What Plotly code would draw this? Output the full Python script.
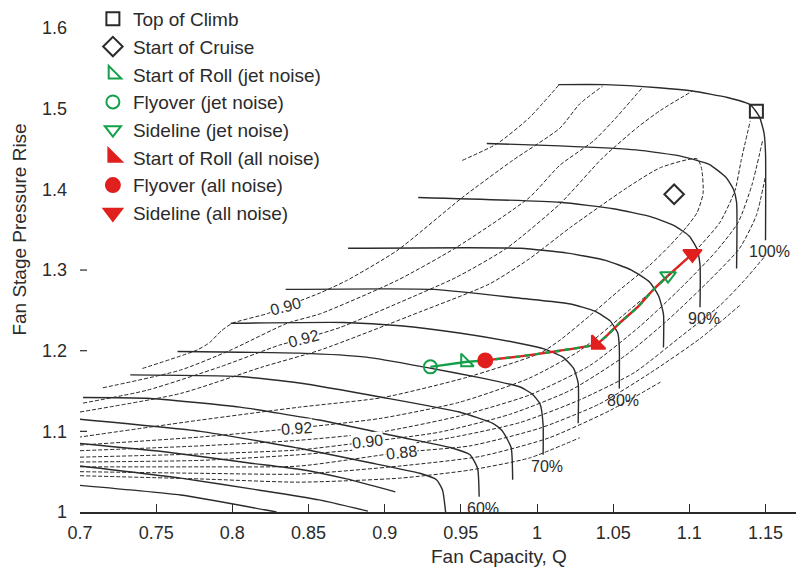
import plotly.graph_objects as go

FONT = "Liberation Sans, Arial, sans-serif"
INK = "#2b2b2b"
DASH_INK = "#262626"
GREEN = "#14a04a"
RED = "#e0201e"

# ---- corrected fan speed lines (Q, pressure rise) ----
spd40_q = [0.700, 0.766, 0.829]
spd40_pr = [1.033, 1.021, 1.000]
spd45_q = [0.700, 0.766, 0.818, 0.857, 0.889]
spd45_pr = [1.057, 1.042, 1.027, 1.015, 1.001]
spd50_q = [0.700, 0.754, 0.810, 0.844, 0.875, 0.907]
spd50_pr = [1.085, 1.075, 1.061, 1.053, 1.041, 1.025]
spd55_q = [0.700, 0.779, 0.844, 0.888, 0.923, 0.934, 0.938, 0.940]
spd55_pr = [1.115, 1.100, 1.079, 1.062, 1.048, 1.040, 1.027, 1.000]
spd60_q = [0.702, 0.744, 0.805, 0.857, 0.910, 0.943, 0.956, 0.961, 0.962]
spd60_pr = [1.142, 1.141, 1.130, 1.114, 1.093, 1.080, 1.071, 1.054, 1.019]
spd65_q = [0.733, 0.805, 0.844, 0.899, 0.949, 0.971, 0.977, 0.983, 0.984]
spd65_pr = [1.170, 1.168, 1.160, 1.142, 1.124, 1.110, 1.101, 1.080, 1.040]
spd70_q = [0.764, 0.844, 0.888, 0.928, 0.964, 0.989, 0.997, 1.002, 1.004, 1.004]
spd70_pr = [1.199, 1.197, 1.192, 1.179, 1.166, 1.155, 1.146, 1.134, 1.108, 1.071]
spd75_q = [0.799, 0.873, 0.910, 0.949, 0.989, 1.005, 1.017, 1.024, 1.027, 1.027]
spd75_pr = [1.234, 1.235, 1.231, 1.222, 1.209, 1.202, 1.192, 1.178, 1.160, 1.110]
spd80_q = [0.835, 0.932, 0.989, 1.022, 1.038, 1.048, 1.053, 1.054, 1.054]
spd80_pr = [1.276, 1.276, 1.265, 1.258, 1.249, 1.237, 1.222, 1.205, 1.153]
spd85_q = [0.876, 0.989, 1.020, 1.045, 1.062, 1.074, 1.080, 1.083, 1.083]
spd85_pr = [1.327, 1.327, 1.321, 1.312, 1.300, 1.285, 1.267, 1.245, 1.204]
spd90_q = [0.922, 1.015, 1.050, 1.075, 1.090, 1.100, 1.105, 1.107, 1.107]
spd90_pr = [1.390, 1.384, 1.376, 1.366, 1.355, 1.342, 1.326, 1.306, 1.254]
spd95_q = [0.967, 1.015, 1.065, 1.095, 1.113, 1.124, 1.129, 1.131, 1.131]
spd95_pr = [1.457, 1.454, 1.449, 1.441, 1.431, 1.415, 1.400, 1.384, 1.302]
spd100_q = [1.014, 1.045, 1.080, 1.102, 1.125, 1.140, 1.146, 1.149, 1.150, 1.150]
spd100_pr = [1.530, 1.530, 1.526, 1.522, 1.514, 1.505, 1.490, 1.470, 1.445, 1.337]

speed_labelled = [60, 70, 80, 90, 100]

# ---- efficiency contours: surge-side branches ----
eff89_top_q = [0.951, 0.974, 0.995, 1.015]
eff89_top_pr = [1.436, 1.457, 1.489, 1.531]
eff90_top_q = [0.741, 0.777, 0.785, 0.793, 0.800, 0.823, 0.835, 0.858, 0.875, 0.908, 0.951, 0.984, 1.015, 1.028, 1.043]
eff90_top_pr = [1.178, 1.201, 1.210, 1.225, 1.234, 1.246, 1.255, 1.272, 1.287, 1.324, 1.390, 1.436, 1.476, 1.506, 1.528]
eff91_top_q = [0.715, 0.766, 0.798, 0.836, 0.858, 0.908, 0.947, 0.995, 1.015, 1.037, 1.050, 1.069]
eff91_top_pr = [1.154, 1.176, 1.200, 1.234, 1.246, 1.287, 1.328, 1.390, 1.430, 1.460, 1.485, 1.526]
eff92_top_q = [0.702, 0.744, 0.792, 0.831, 0.847, 0.871, 0.910, 0.947, 0.980, 1.015, 1.043, 1.066, 1.081, 1.102]
eff92_top_pr = [1.135, 1.151, 1.180, 1.207, 1.215, 1.229, 1.260, 1.291, 1.327, 1.382, 1.439, 1.477, 1.498, 1.522]

# ---- efficiency contour 0.93: closed tongue around the peak ----
eff93_q = [0.700, 0.766, 0.820, 0.858, 0.923, 0.969, 0.995, 1.022, 1.059, 1.081, 1.105, 1.108, 1.109,
           1.105, 1.098, 1.087, 1.074, 1.054, 1.035, 1.015, 1.002, 0.954, 0.899, 0.844, 0.779, 0.700]
eff93_pr = [1.124, 1.147, 1.180, 1.201, 1.248, 1.283, 1.314, 1.353, 1.402, 1.427, 1.438, 1.426, 1.395,
            1.371, 1.353, 1.330, 1.306, 1.275, 1.244, 1.213, 1.197, 1.167, 1.142, 1.130, 1.114, 1.093]

# ---- efficiency contours: choke-side branches ----
eff92_low_q = [0.700, 0.779, 0.842, 0.897, 0.949, 0.995, 1.028, 1.054, 1.081, 1.104, 1.120, 1.130, 1.134, 1.140]
eff92_low_pr = [1.083, 1.093, 1.104, 1.116, 1.136, 1.166, 1.200, 1.240, 1.283, 1.324, 1.359, 1.399, 1.436, 1.485]
eff91_low_q = [0.700, 0.779, 0.844, 0.897, 0.949, 0.995, 1.035, 1.068, 1.094, 1.117, 1.132, 1.141, 1.148]
eff91_low_pr = [1.076, 1.082, 1.089, 1.099, 1.119, 1.145, 1.182, 1.231, 1.277, 1.322, 1.359, 1.405, 1.460]
eff90_low_q = [0.700, 0.779, 0.844, 0.889, 0.936, 0.982, 1.022, 1.058, 1.087, 1.113, 1.133, 1.144, 1.150]
eff90_low_pr = [1.068, 1.072, 1.077, 1.087, 1.099, 1.121, 1.151, 1.194, 1.240, 1.287, 1.327, 1.368, 1.417]
eff89_low_q = [0.700, 0.779, 0.844, 0.897, 0.943, 0.989, 1.028, 1.064, 1.094, 1.120, 1.136, 1.150]
eff89_low_pr = [1.062, 1.064, 1.071, 1.080, 1.092, 1.111, 1.139, 1.173, 1.217, 1.256, 1.287, 1.318]
eff88_low_q = [0.700, 0.779, 0.844, 0.911, 0.956, 1.002, 1.041, 1.074, 1.107, 1.133]
eff88_low_pr = [1.056, 1.056, 1.057, 1.074, 1.082, 1.104, 1.134, 1.172, 1.215, 1.256]
eff87_low_q = [0.700, 0.779, 0.844, 0.910, 0.963, 1.008, 1.048, 1.081]
eff87_low_pr = [1.050, 1.048, 1.047, 1.057, 1.069, 1.092, 1.126, 1.161]
eff86_low_q = [0.700, 0.779, 0.844, 0.910, 0.956, 0.995, 1.028]
eff86_low_pr = [1.045, 1.041, 1.037, 1.042, 1.052, 1.067, 1.092]

# ---- operating points ----
point_names = ["Top of Climb", "Start of Cruise",
               "Start of Roll (jet noise)", "Flyover (jet noise)", "Sideline (jet noise)",
               "Start of Roll (all noise)", "Flyover (all noise)", "Sideline (all noise)"]
point_q = [1.144, 1.090, 0.953, 0.930, 1.086, 1.039, 0.966, 1.102]
point_pr = [1.497, 1.394, 1.186, 1.180, 1.293, 1.208, 1.188, 1.320]

# operating line through the take-off points
oper_jet_q = [0.930, 0.953, 0.966]
oper_jet_pr = [1.180, 1.186, 1.188]
oper_shared_q = [0.966, 0.989, 1.015, 1.039, 1.046, 1.054, 1.066, 1.076, 1.086]
oper_shared_pr = [1.188, 1.193, 1.200, 1.208, 1.219, 1.234, 1.254, 1.275, 1.293]
oper_all_q = oper_shared_q + [1.102]
oper_all_pr = oper_shared_pr + [1.320]

x_tick_step = 0.05
y_tick_marks = [1.1, 1.2, 1.3]

fig = go.Figure()


def add_curve(q, pr, color, width, dash="solid", smooth=0.6):
    fig.add_trace(go.Scatter(
        x=q, y=pr, mode="lines",
        line=dict(color=color, width=width, dash=dash, shape="spline", smoothing=smooth),
        hoverinfo="skip", showlegend=False))


speed_lines = [(40, spd40_q, spd40_pr), (45, spd45_q, spd45_pr), (50, spd50_q, spd50_pr),
               (55, spd55_q, spd55_pr), (60, spd60_q, spd60_pr), (65, spd65_q, spd65_pr),
               (70, spd70_q, spd70_pr), (75, spd75_q, spd75_pr), (80, spd80_q, spd80_pr),
               (85, spd85_q, spd85_pr), (90, spd90_q, spd90_pr), (95, spd95_q, spd95_pr),
               (100, spd100_q, spd100_pr)]

eff_lines = [(eff89_top_q, eff89_top_pr), (eff90_top_q, eff90_top_pr), (eff91_top_q, eff91_top_pr),
             (eff92_top_q, eff92_top_pr), (eff93_q, eff93_pr), (eff92_low_q, eff92_low_pr),
             (eff91_low_q, eff91_low_pr), (eff90_low_q, eff90_low_pr), (eff89_low_q, eff89_low_pr),
             (eff88_low_q, eff88_low_pr), (eff87_low_q, eff87_low_pr), (eff86_low_q, eff86_low_pr)]

for q, pr in eff_lines:
    add_curve(q, pr, DASH_INK, 1.0, dash="4px,2px")

for pct, q, pr in speed_lines:
    add_curve(q, pr, INK, 1.4, smooth=0.5)

# operating line: red all-noise path under a dashed green jet-noise path
add_curve(oper_all_q, oper_all_pr, RED, 2.4, smooth=0.4)
add_curve(oper_jet_q, oper_jet_pr, GREEN, 2.4, smooth=0.0)
add_curve(oper_shared_q, oper_shared_pr, GREEN, 2.4, dash="5px,5px", smooth=0.4)

symbols = ["square-open", "diamond-open", "triangle-sw-open", "circle-open", "triangle-down-open",
           "triangle-sw", "circle", "triangle-down"]
colors = [INK, INK, GREEN, GREEN, GREEN, RED, RED, RED]
sizes = [13, 15, 14, 13, 14, 15, 14, 16]
for name, q, pr, sym, col, sz in zip(point_names, point_q, point_pr, symbols, colors, sizes):
    fig.add_trace(go.Scatter(
        x=[q], y=[pr], mode="markers", name=name,
        marker=dict(symbol=sym, size=sz, color=col, line=dict(color=col, width=2)),
        hoverinfo="skip"))

annotations = []
for pct, q, pr in speed_lines:
    if pct in speed_labelled:
        annotations.append(dict(x=q[-1], y=pr[-1], xref="x", yref="y", text=f"{pct}%",
                                showarrow=False, xanchor="center", yanchor="top", xshift=4, yshift=-1,
                                font=dict(family=FONT, size=16, color=INK)))

# efficiency labels: (curve, point index, level, angle)
eff_labels = [(eff90_top_q, eff90_top_pr, 6, 0.90, -15), (eff92_top_q, eff92_top_pr, 4, 0.92, -15),
              (eff92_low_q, eff92_low_pr, 2, 0.92, -4), (eff90_low_q, eff90_low_pr, 3, 0.90, -6),
              (eff88_low_q, eff88_low_pr, 3, 0.88, -7)]
for q, pr, i, level, ang in eff_labels:
    annotations.append(dict(x=q[i], y=pr[i], xref="x", yref="y", text=f"{level:.2f}",
                            showarrow=False, textangle=ang, bgcolor="white", borderpad=0,
                            font=dict(family=FONT, size=16, color=INK)))

annotations.append(dict(x=0.975, y=-0.089, xref="x", yref="paper", text="Fan Capacity, Q",
                        xanchor="center", yanchor="middle",
                        showarrow=False, font=dict(family=FONT, size=19, color=INK)))
annotations.append(dict(x=-0.084, y=1.35, xref="paper", yref="y", text="Fan Stage Pressure Rise",
                        xanchor="center", yanchor="middle",
                        showarrow=False, textangle=-90, font=dict(family=FONT, size=19, color=INK)))

shapes = [dict(type="line", xref="paper", yref="y", x0=0, x1=0.0098, y0=v, y1=v,
               line=dict(color=INK, width=1.2)) for v in y_tick_marks]

fig.update_layout(
    width=796, height=571,
    margin=dict(l=80, r=0, t=11, b=59),
    paper_bgcolor="white", plot_bgcolor="white",
    annotations=annotations, shapes=shapes,
    legend=dict(x=0.018, y=1.024, xanchor="left", yanchor="top", bgcolor="rgba(0,0,0,0)",
                font=dict(family=FONT, size=19, color=INK), itemsizing="trace",
                tracegroupgap=0),
    font=dict(family=FONT, color=INK),
)
fig.update_xaxes(range=[0.7, 1.17], tick0=0.7, dtick=x_tick_step, ticks="inside", ticklen=8,
                 tickwidth=1.2, tickcolor=INK, showline=True, linecolor=INK, linewidth=1.5,
                 showgrid=False, zeroline=False, ticklabelstandoff=4,
                 tickfont=dict(family=FONT, size=18, color=INK))
fig.update_yaxes(range=[1.0, 1.62], tick0=1.0, dtick=0.1, ticks="", showline=False,
                 showgrid=False, zeroline=False, ticklabelstandoff=12,
                 tickfont=dict(family=FONT, size=18, color=INK))

fig.write_html("out.html")
